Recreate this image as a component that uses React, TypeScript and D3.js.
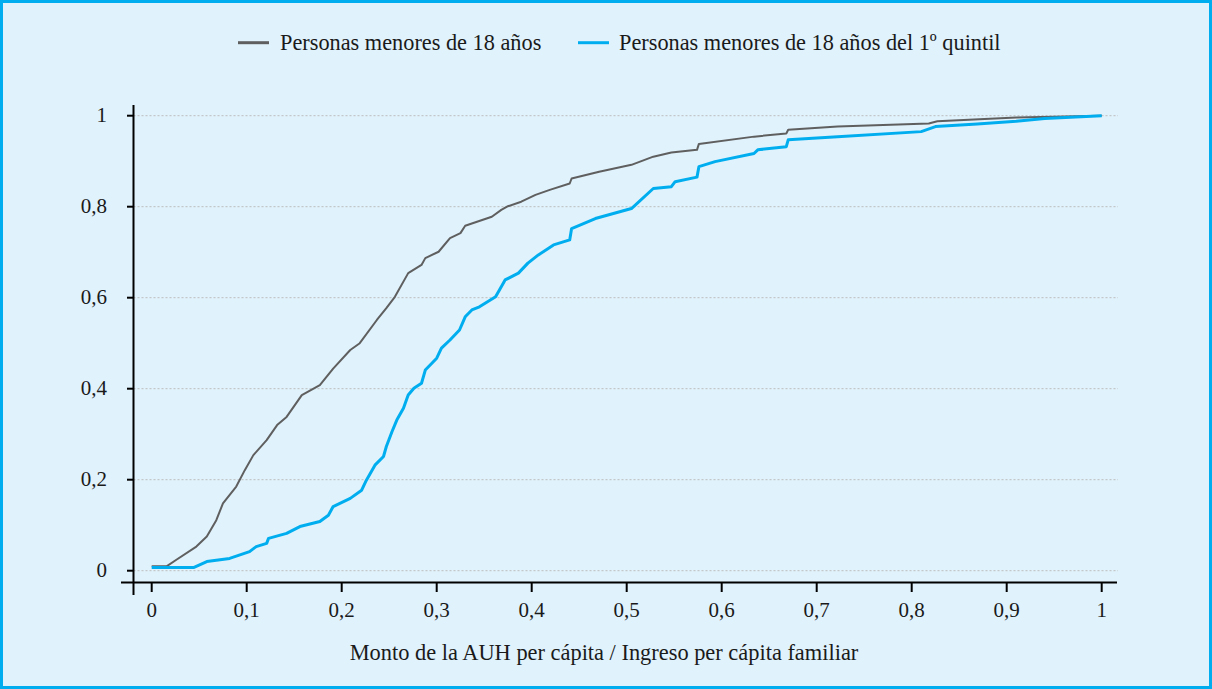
import React, { useEffect, useRef } from "react";
import * as d3 from "d3";

// Personas menores de 18 años (CDF)
const grayX = [0, 0.016, 0.026, 0.047, 0.058, 0.068, 0.075, 0.089, 0.098, 0.107, 0.121, 0.132, 0.142, 0.158, 0.177, 0.191, 0.209, 0.219, 0.237, 0.247, 0.256, 0.270, 0.284, 0.288, 0.302, 0.314, 0.325, 0.330, 0.358, 0.368, 0.375, 0.389, 0.404, 0.419, 0.440, 0.442, 0.471, 0.505, 0.528, 0.547, 0.574, 0.576, 0.634, 0.668, 0.670, 0.722, 0.818, 0.827, 0.910, 1.0];
const grayY = [0.01, 0.01, 0.024, 0.053, 0.075, 0.111, 0.148, 0.185, 0.221, 0.254, 0.287, 0.320, 0.338, 0.386, 0.408, 0.444, 0.485, 0.500, 0.551, 0.577, 0.602, 0.654, 0.672, 0.687, 0.701, 0.731, 0.742, 0.758, 0.778, 0.793, 0.801, 0.811, 0.826, 0.837, 0.851, 0.862, 0.877, 0.892, 0.910, 0.919, 0.925, 0.938, 0.954, 0.961, 0.969, 0.976, 0.983, 0.988, 0.996, 1.0];

// Personas menores de 18 años del 1º quintil (CDF)
const blueX = [0, 0.044, 0.058, 0.082, 0.103, 0.110, 0.121, 0.123, 0.142, 0.156, 0.177, 0.186, 0.191, 0.209, 0.221, 0.226, 0.235, 0.244, 0.247, 0.253, 0.258, 0.265, 0.270, 0.276, 0.284, 0.288, 0.300, 0.305, 0.314, 0.324, 0.330, 0.337, 0.345, 0.362, 0.372, 0.386, 0.396, 0.407, 0.423, 0.440, 0.442, 0.467, 0.505, 0.528, 0.547, 0.551, 0.574, 0.576, 0.593, 0.634, 0.638, 0.668, 0.670, 0.722, 0.810, 0.825, 0.869, 0.910, 0.940, 1.0];
const blueY = [0.007, 0.007, 0.020, 0.027, 0.042, 0.053, 0.060, 0.071, 0.082, 0.097, 0.108, 0.122, 0.141, 0.159, 0.177, 0.199, 0.232, 0.251, 0.273, 0.306, 0.331, 0.357, 0.386, 0.401, 0.412, 0.441, 0.467, 0.489, 0.507, 0.529, 0.558, 0.573, 0.580, 0.602, 0.639, 0.654, 0.676, 0.694, 0.716, 0.727, 0.752, 0.774, 0.796, 0.840, 0.844, 0.855, 0.865, 0.888, 0.899, 0.917, 0.925, 0.932, 0.947, 0.954, 0.965, 0.976, 0.982, 0.988, 0.994, 1.0];

const xTicks = [0, 0.1, 0.2, 0.3, 0.4, 0.5, 0.6, 0.7, 0.8, 0.9, 1];
const yTicks = [0, 0.2, 0.4, 0.6, 0.8, 1];
const seriesNames = ["Personas menores de 18 años", "Personas menores de 18 años del 1º quintil"];
const xTitle = "Monto de la AUH per cápita / Ingreso per cápita familiar";

export default function App() {
  const svgRef = useRef<SVGSVGElement>(null);

  useEffect(() => {
    document.body.style.margin = "0";
    const width = 1212;
    const height = 689;
    const font = "Liberation Serif, DejaVu Serif, serif";
    const fmt = (v: number) => String(v).replace(".", ",");

    const svg = d3.select(svgRef.current);
    svg.selectAll("*").remove();
    svg.attr("width", width).attr("height", height);

    // Background + frame
    svg.append("rect")
      .attr("x", 1.5).attr("y", 1.5)
      .attr("width", width - 3).attr("height", height - 3)
      .attr("fill", "#e0f2fc")
      .attr("stroke", "#00aeef")
      .attr("stroke-width", 3);

    const x = d3.scaleLinear().domain([0, 1]).range([151.7, 1101.7]);
    const y = d3.scaleLinear().domain([0, 1]).range([570.7, 115.7]);

    const axisX = 133.5;
    const axisY = 582.5;

    // Grid lines
    svg.append("g")
      .selectAll("line")
      .data(yTicks)
      .join("line")
      .attr("x1", axisX).attr("x2", 1118)
      .attr("y1", d => y(d)).attr("y2", d => y(d))
      .attr("stroke", "#bdbdbd")
      .attr("stroke-width", 1)
      .attr("stroke-dasharray", "2,2");

    // Y axis
    svg.append("line")
      .attr("x1", axisX).attr("x2", axisX)
      .attr("y1", 105).attr("y2", 595)
      .attr("stroke", "#000").attr("stroke-width", 2);
    svg.append("g")
      .selectAll("line")
      .data(yTicks)
      .join("line")
      .attr("x1", 127).attr("x2", axisX)
      .attr("y1", d => y(d)).attr("y2", d => y(d))
      .attr("stroke", "#000").attr("stroke-width", 2);
    svg.append("g")
      .selectAll("text")
      .data(yTicks)
      .join("text")
      .attr("x", 107)
      .attr("y", d => y(d) + 6)
      .attr("text-anchor", "end")
      .style("font-family", font)
      .attr("font-size", 21)
      .attr("fill", "#1a1a1a")
      .text(d => fmt(d));

    // X axis
    svg.append("line")
      .attr("x1", 121).attr("x2", 1117)
      .attr("y1", axisY).attr("y2", axisY)
      .attr("stroke", "#000").attr("stroke-width", 2);
    svg.append("g")
      .selectAll("line")
      .data(xTicks)
      .join("line")
      .attr("x1", d => x(d)).attr("x2", d => x(d))
      .attr("y1", axisY).attr("y2", 592)
      .attr("stroke", "#000").attr("stroke-width", 2);
    svg.append("g")
      .selectAll("text")
      .data(xTicks)
      .join("text")
      .attr("x", d => x(d))
      .attr("y", 617)
      .attr("text-anchor", "middle")
      .style("font-family", font)
      .attr("font-size", 21)
      .attr("fill", "#1a1a1a")
      .text(d => fmt(d));

    // Axis title
    svg.append("text")
      .attr("x", 604)
      .attr("y", 660)
      .attr("text-anchor", "middle")
      .style("font-family", font)
      .attr("font-size", 22.4)
      .attr("fill", "#1a1a1a")
      .text(xTitle);

    // Lines
    const line = d3.line<[number, number]>()
      .x(d => x(d[0]))
      .y(d => y(d[1]))
      .curve(d3.curveLinear);

    const grayData = grayX.map((v, i) => [v, grayY[i]] as [number, number]);
    const blueData = blueX.map((v, i) => [v, blueY[i]] as [number, number]);

    svg.append("path")
      .datum(grayData)
      .attr("fill", "none")
      .attr("stroke", "#5f5f5f")
      .attr("stroke-width", 2)
      .attr("stroke-linejoin", "round")
      .attr("d", line);

    svg.append("path")
      .datum(blueData)
      .attr("fill", "none")
      .attr("stroke", "#00aeef")
      .attr("stroke-width", 3)
      .attr("stroke-linejoin", "round")
      .attr("d", line);

    // Legend
    const legend = [
      { name: seriesNames[0], color: "#5f5f5f", lx: 238, tx: 280 },
      { name: seriesNames[1], color: "#00aeef", lx: 578, tx: 619 },
    ];
    legend.forEach(l => {
      svg.append("line")
        .attr("x1", l.lx).attr("x2", l.lx + 31)
        .attr("y1", 42.7).attr("y2", 42.7)
        .attr("stroke", l.color).attr("stroke-width", 3);
      svg.append("text")
        .attr("x", l.tx)
        .attr("y", 49.5)
        .style("font-family", font)
        .attr("font-size", 22.3)
        .attr("fill", "#1a1a1a")
        .text(l.name);
    });
  }, []);

  return <svg ref={svgRef} style={{ display: "block" }}></svg>;
}
